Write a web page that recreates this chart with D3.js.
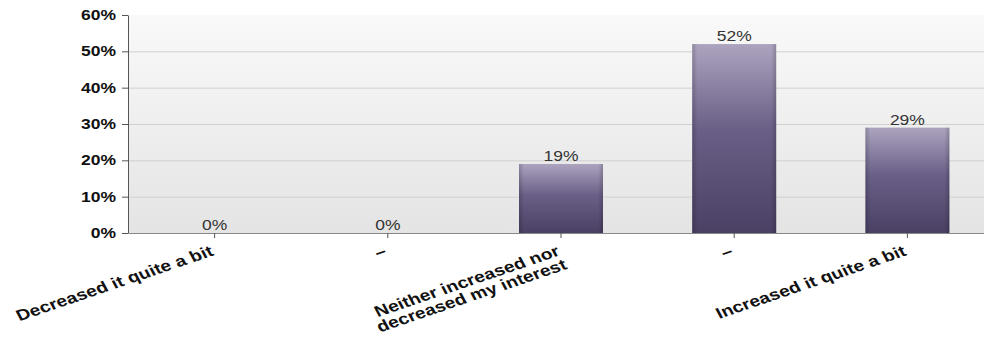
<!DOCTYPE html>
<html>
<head>
<meta charset="utf-8">
<script src="https://cdn.jsdelivr.net/npm/d3@7"></script>
<style>
  html, body { margin: 0; padding: 0; background: #ffffff; }
  svg { display: block; font-family: Arial, "Liberation Sans", sans-serif; }
</style>
</head>
<body>
<svg id="chart" width="984" height="345"></svg>
<script>
// Survey responses: how the course changed interest
const categories = [
  ["Decreased it quite a bit"],
  ["–"],
  ["Neither increased nor", "decreased my interest"],
  ["–"],
  ["Increased it quite a bit"]
];
const values = [0, 0, 19, 52, 29];
const yTicks = [0, 10, 20, 30, 40, 50, 60];

// text is drawn slightly widened
const stretch = 1.25;

const svg = d3.select("#chart");
const margin = { left: 128, top: 15, bottom: 233, right: 994 };

const x = d3.scaleBand()
  .domain(d3.range(categories.length))
  .range([margin.left, margin.right])
  .paddingInner(0.515)
  .paddingOuter(0.2575);

const y = d3.scaleLinear().domain([0, 60]).range([margin.bottom, margin.top]);

const defs = svg.append("defs");
const bg = defs.append("linearGradient").attr("id", "bg").attr("x1", 0).attr("y1", 0).attr("x2", 0).attr("y2", 1);
bg.append("stop").attr("offset", "0%").attr("stop-color", "#f9f9f9");
bg.append("stop").attr("offset", "100%").attr("stop-color", "#e4e4e4");

const barGrad = defs.append("linearGradient").attr("id", "bar").attr("x1", 0).attr("y1", 0).attr("x2", 0).attr("y2", 1);
barGrad.append("stop").attr("offset", "0%").attr("stop-color", "#aca4bf");
barGrad.append("stop").attr("offset", "45%").attr("stop-color", "#6a5f86");
barGrad.append("stop").attr("offset", "100%").attr("stop-color", "#4a4064");

const edgeGrad = defs.append("linearGradient").attr("id", "edge").attr("x1", 0).attr("y1", 0).attr("x2", 1).attr("y2", 0);
edgeGrad.append("stop").attr("offset", "0%").attr("stop-color", "#000").attr("stop-opacity", 0.18);
edgeGrad.append("stop").attr("offset", "6%").attr("stop-color", "#000").attr("stop-opacity", 0);
edgeGrad.append("stop").attr("offset", "94%").attr("stop-color", "#000").attr("stop-opacity", 0);
edgeGrad.append("stop").attr("offset", "100%").attr("stop-color", "#000").attr("stop-opacity", 0.18);

// plot background
svg.append("rect")
  .attr("x", margin.left).attr("y", margin.top)
  .attr("width", margin.right - margin.left)
  .attr("height", margin.bottom - margin.top)
  .attr("fill", "url(#bg)");

// gridlines
svg.append("g").selectAll("line")
  .data(yTicks.filter(d => d > 0 && d < 60))
  .join("line")
  .attr("x1", margin.left).attr("x2", margin.right)
  .attr("y1", d => y(d) + 0.5).attr("y2", d => y(d) + 0.5)
  .attr("stroke", "#d0d0d0").attr("stroke-width", 1);

// bars
const bars = svg.append("g").selectAll("g")
  .data(values.map((v, i) => ({ v, i })).filter(d => d.v > 0))
  .join("g");
bars.append("rect")
  .attr("x", d => x(d.i)).attr("y", d => y(d.v))
  .attr("width", x.bandwidth()).attr("height", d => y(0) - y(d.v))
  .attr("fill", "url(#bar)");
bars.append("rect")
  .attr("x", d => x(d.i)).attr("y", d => y(d.v))
  .attr("width", x.bandwidth()).attr("height", d => y(0) - y(d.v))
  .attr("fill", "url(#edge)");

// value labels
svg.append("g").selectAll("text")
  .data(values.map((v, i) => ({ v, i })))
  .join("text")
  .attr("transform", d => `translate(${x(d.i) + x.bandwidth() / 2},${y(d.v) - 3}) scale(${stretch},1)`)
  .attr("text-anchor", "middle")
  .attr("font-size", 14)
  .attr("fill", "#333")
  .text(d => d.v + "%");

// y axis
const yAxis = svg.append("g")
  .attr("transform", `translate(${margin.left},0)`)
  .call(d3.axisLeft(y).tickValues(yTicks).tickFormat(d => d + "%").tickSizeInner(6).tickSizeOuter(0).tickPadding(6));
yAxis.select(".domain").attr("stroke", "#555");
yAxis.selectAll(".tick line").attr("stroke", "#555");
yAxis.selectAll(".tick text")
  .attr("x", -12 / stretch)
  .attr("transform", `scale(${stretch},1)`)
  .attr("font-size", 14).attr("font-weight", "bold").attr("fill", "#111")
  .attr("font-family", "Arial, 'Liberation Sans', sans-serif");

// x axis
const xAxis = svg.append("g")
  .attr("transform", `translate(0,${margin.bottom})`)
  .call(d3.axisBottom(x).tickFormat("").tickSizeInner(5).tickSizeOuter(0));
xAxis.select(".domain").attr("stroke", "#888");
xAxis.selectAll(".tick line").attr("stroke", "#555");

// rotated category labels
const lab = svg.append("g").selectAll("text")
  .data(categories.map((c, i) => ({ c, i })))
  .join("text")
  .attr("transform", d => `translate(${x(d.i) + x.bandwidth() / 2},${margin.bottom + 22}) scale(${stretch},1) rotate(-23)`)
  .attr("text-anchor", "end")
  .attr("font-size", 15.5)
  .attr("font-weight", "bold")
  .attr("fill", "#111");
lab.selectAll("tspan")
  .data(d => d.c)
  .join("tspan")
  .attr("x", 0)
  .attr("dy", (t, j) => j === 0 ? 0 : "0.95em")
  .text(t => t);
</script>
</body>
</html>
